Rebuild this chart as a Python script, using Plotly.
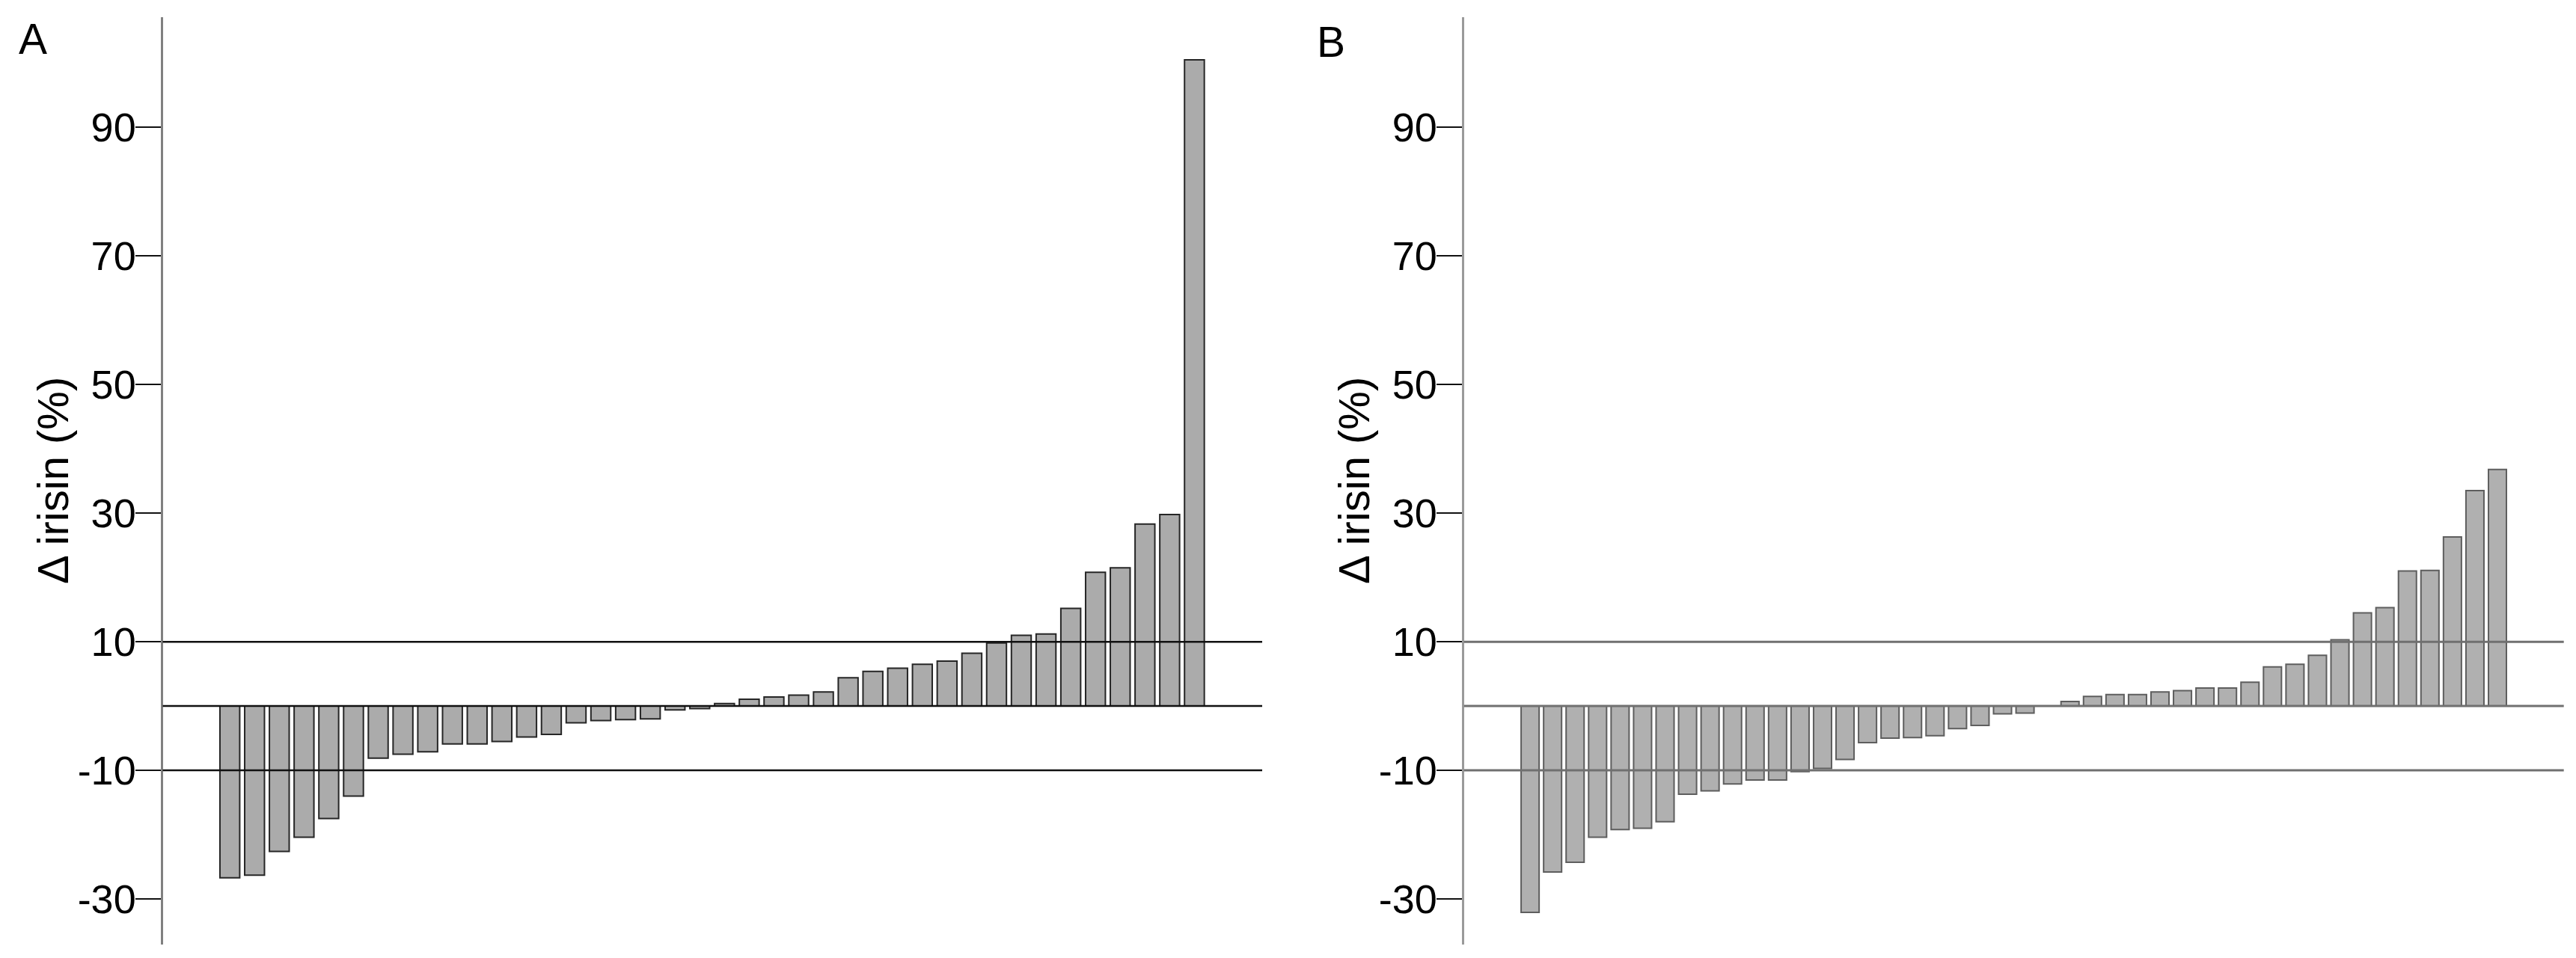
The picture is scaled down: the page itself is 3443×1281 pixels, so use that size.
import plotly.graph_objects as go

# ---------------- data ----------------
subjects_a = list(range(1, 41))
delta_irisin_a = [-26.7, -26.3, -22.6, -20.4, -17.5, -14.0, -8.1, -7.5, -7.1, -5.9,
                  -5.9, -5.5, -4.8, -4.4, -2.6, -2.25, -2.1, -2.0, -0.6, -0.4,
                  0.4, 1.05, 1.4, 1.7, 2.2, 4.4, 5.4, 5.9, 6.5, 7.0,
                  8.2, 9.8, 11.0, 11.2, 15.2, 20.8, 21.5, 28.3, 29.8, 100.5]

subjects_b = list(range(1, 45))
delta_irisin_b = [-32.1, -25.8, -24.3, -20.4, -19.2, -19.0, -18.0, -13.7, -13.2, -12.1,
                  -11.5, -11.5, -10.2, -9.7, -8.3, -5.7, -5.0, -4.9, -4.6, -3.5,
                  -3.0, -1.2, -1.1, 0.0, 0.7, 1.5, 1.8, 1.8, 2.2, 2.4,
                  2.8, 2.8, 3.7, 6.1, 6.5, 7.9, 10.3, 14.5, 15.3, 21.0,
                  21.1, 26.3, 33.5, 36.8]

ref_lines = [10, 0, -10]
y_ticks = [-30, -10, 10, 30, 50, 70, 90]
y_tick_labels = ["-30", "-10", "10", "30", "50", "70", "90"]
panel_labels = ["A", "B"]
axis_title = "Δ irisin (%)"

# ---------------- layout geometry ----------------
W, H = 3443, 1281
FONT = "Liberation Sans, Arial, sans-serif"
y_range = [-37.09, 107.17]
y_domain = [(H - 1263) / H, (H - 22.7) / H]
xa_domain = [217.5 / W, 1687 / W]
xb_domain = [1956.7 / W, 3426.7 / W]
xa_range = [-1.713, 42.74]
xb_range = [-1.94, 46.95]

fig = go.Figure()
fig.add_trace(go.Bar(
    x=subjects_a, y=delta_irisin_a, width=0.8,
    marker=dict(color="#ababab", line=dict(color="#262626", width=2)),
    xaxis="x", yaxis="y", hoverinfo="skip", showlegend=False))
fig.add_trace(go.Bar(
    x=subjects_b, y=delta_irisin_b, width=0.8,
    marker=dict(color="#b0b0b0", line=dict(color="#5e5e5e", width=2)),
    xaxis="x2", yaxis="y2", hoverinfo="skip", showlegend=False))

shapes = []
for v in ref_lines:
    shapes.append(dict(type="line", xref="x domain", yref="y", x0=0, x1=1, y0=v, y1=v,
                       line=dict(color="#111111", width=2.5), layer="above"))
    shapes.append(dict(type="line", xref="x2 domain", yref="y2", x0=0, x1=1, y0=v, y1=v,
                       line=dict(color="#707070", width=3), layer="above"))

def yaxis_cfg(anchor, linecolor):
    return dict(
        domain=y_domain, range=y_range, anchor=anchor,
        showline=True, linecolor=linecolor, linewidth=3,
        ticks="outside", ticklen=34, tickwidth=2, tickcolor="#111111",
        tickvals=y_ticks, ticktext=y_tick_labels, ticklabelstandoff=-12,
        tickfont=dict(family=FONT, size=54, color="#000000"),
        showgrid=False, zeroline=False, fixedrange=True)

def xaxis_cfg(domain, rng, anchor):
    return dict(domain=domain, range=rng, anchor=anchor, showline=False, showgrid=False,
                zeroline=False, ticks="", showticklabels=False, fixedrange=True)

annotations = [
    dict(text=panel_labels[0], x=43.5 / W, y=(H - 52) / H, xref="paper", yref="paper",
         xanchor="center", yanchor="middle", showarrow=False,
         font=dict(family=FONT, size=57, color="#000000")),
    dict(text=panel_labels[1], x=1778.5 / W, y=(H - 56) / H, xref="paper", yref="paper",
         xanchor="center", yanchor="middle", showarrow=False,
         font=dict(family=FONT, size=57, color="#000000")),
    dict(text=axis_title, x=70 / W, y=(H - 643) / H, xref="paper", yref="paper",
         xanchor="center", yanchor="middle", textangle=-90, showarrow=False,
         font=dict(family=FONT, size=58, color="#000000")),
    dict(text=axis_title, x=1809 / W, y=(H - 643) / H, xref="paper", yref="paper",
         xanchor="center", yanchor="middle", textangle=-90, showarrow=False,
         font=dict(family=FONT, size=58, color="#000000")),
]

fig.update_layout(
    width=W, height=H, margin=dict(l=0, r=0, t=0, b=0, pad=0),
    paper_bgcolor="white", plot_bgcolor="white",
    xaxis=xaxis_cfg(xa_domain, xa_range, "y"),
    yaxis=yaxis_cfg("x", "#808080"),
    xaxis2=xaxis_cfg(xb_domain, xb_range, "y2"),
    yaxis2=yaxis_cfg("x2", "#9a9a9a"),
    shapes=shapes, annotations=annotations,
    font=dict(family=FONT), showlegend=False, bargap=0.2,
)

fig.write_html("out.html", config={"displayModeBar": False, "staticPlot": True},
               post_script="document.body.style.margin='0';document.body.style.overflow='hidden';")
